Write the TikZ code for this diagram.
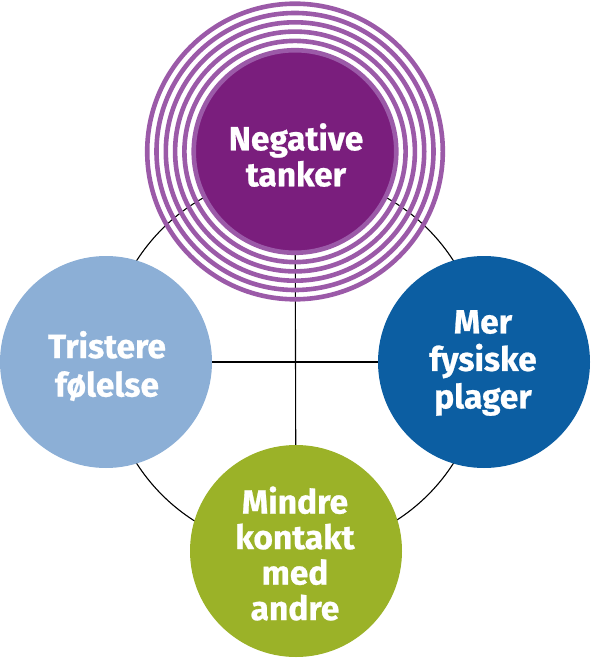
\documentclass[tikz,border=0pt]{standalone}
\usepackage{fontspec}
\setmainfont{Fira Sans}[BoldFeatures={FakeBold=0.7}]
\definecolor{purpfill}{RGB}{122,30,125}
\definecolor{purpring}{RGB}{155,90,168}
\definecolor{lightblue}{RGB}{140,175,214}
\definecolor{darkblue}{RGB}{12,94,162}
\definecolor{greenc}{RGB}{155,178,40}
\tikzset{
  bubble/.style={circle, inner sep=0pt, minimum size=212pt, draw=none},
  ring/.style={draw=purpring, line width=4.6pt},
  link/.style={draw=black, line width=1.1pt},
  lbl/.style={text=white, align=center, inner sep=0pt},
  lsize/.style={font=\bfseries\fontsize{33.5}{#1}\selectfont}
}
\begin{document}
\begin{tikzpicture}[x=1pt,y=-1pt]
\useasboundingbox (0,0) rectangle (590,658);
\coordinate (mid) at (295,362);
\coordinate (topc) at (295,151.5);
\coordinate (leftc) at (106,362);
\coordinate (rightc) at (484,362);
\coordinate (botc) at (296,551);
% connectors
\draw[link] (mid) circle (188pt);
\draw[link] (topc) -- (botc);
\draw[link] (leftc) -- (rightc);
% bubbles
\node[bubble, fill=lightblue] (left) at (leftc) {};
\node[bubble, fill=darkblue] (right) at (rightc) {};
\node[bubble, fill=greenc] (bot) at (botc) {};
\node[circle, inner sep=0pt, minimum size=200pt, fill=purpfill] (top) at (topc) {};
\foreach \r in {101.3,110.6,119.9,129.2,138.5,147.8}
  \draw[ring] (top.center) circle (\r pt);
% labels
\node[lbl, lsize=36] (tl) at (296,155) {Negative\\tanker};
\node[lbl, lsize=38.5] (ll) at (107,366) {Tristere\\følelse};
\node[lbl, lsize=37.5] (rl) at (483,363) {Mer\\fysiske\\plager};
\node[lbl, lsize=35.5] (bl) at (295,553.5) {Mindre\\kontakt\\med\\andre};
\end{tikzpicture}
\end{document}
